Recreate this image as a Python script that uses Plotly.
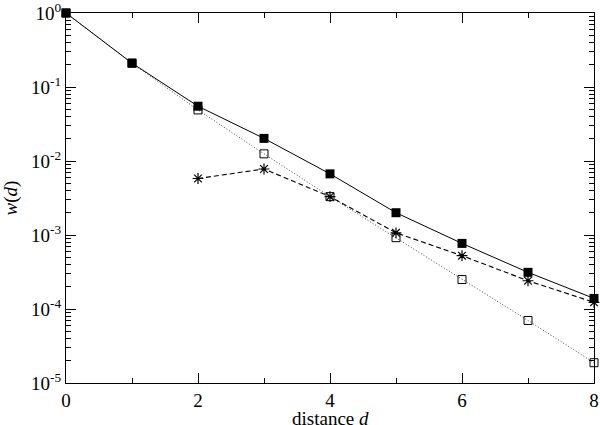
"""
w(d) versus distance d, log scale
"""
import plotly.graph_objects as go

# data
d_full = [0, 1, 2, 3, 4, 5, 6, 7, 8]
w_filled = [1.0, 0.21, 0.055, 0.0202, 0.0067, 0.0020, 7.7e-4, 3.13e-4, 1.39e-4]
w_open = [1.0, 0.21, 0.049, 0.0125, 0.0033, 9.2e-4, 2.5e-4, 7.0e-5, 1.88e-5]
d_star = [2, 3, 4, 5, 6, 7, 8]
w_star = [0.0058, 0.0078, 0.0033, 0.00107, 5.25e-4, 2.41e-4, 1.23e-4]

x_ticks = [0, 2, 4, 6, 8]
y_ticks = [1, 1e-1, 1e-2, 1e-3, 1e-4, 1e-5]
y_labels = ['10<sup>0</sup>', '10<sup>-1</sup>', '10<sup>-2</sup>',
            '10<sup>-3</sup>', '10<sup>-4</sup>', '10<sup>-5</sup>']

fig = go.Figure()

fig.add_trace(go.Scatter(
    x=d_full, y=w_open, mode='lines+markers', cliponaxis=False,
    line=dict(color='#444444', width=1, dash='1px,2px'),
    marker=dict(symbol='square-open', size=8, color='black',
                line=dict(width=1, color='black')),
))
fig.add_trace(go.Scatter(
    x=d_star, y=w_star, mode='lines+markers', cliponaxis=False,
    line=dict(color='black', width=1.1, dash='5px,3px'),
    marker=dict(symbol='asterisk-open', size=9, color='black',
                line=dict(width=1.2, color='black')),
))
fig.add_trace(go.Scatter(
    x=d_full, y=w_filled, mode='lines+markers', cliponaxis=False,
    line=dict(color='black', width=1),
    marker=dict(symbol='square', size=9, color='black'),
))

axis_font = dict(family='Liberation Serif', size=19, color='black')

fig.update_layout(
    width=600, height=425,
    margin=dict(l=66, r=6, t=13, b=42),
    paper_bgcolor='white', plot_bgcolor='white',
    showlegend=False,
    font=axis_font,
    xaxis=dict(
        range=[0, 8], tickvals=x_ticks,
        ticks='inside', ticklen=10, tickwidth=1, tickcolor='black',
        minor=dict(ticks='inside', ticklen=5, dtick=1, tickcolor='black'),
        showline=True, linecolor='black', linewidth=1, mirror='ticks',
        showgrid=False, zeroline=False, ticklabeloverflow='allow',
        automargin=False,
        tickfont=axis_font,
    ),
    yaxis=dict(
        type='log', range=[-5, 0],
        tickvals=y_ticks, ticktext=y_labels,
        ticks='inside', ticklen=10, tickwidth=1, tickcolor='black',
        minor=dict(ticks='inside', ticklen=5, dtick='D1', tickcolor='black'),
        showline=True, linecolor='black', linewidth=1, mirror='ticks',
        showgrid=False, zeroline=False, ticklabeloverflow='allow',
        automargin=False,
        title=dict(text='<i>w</i>(<i>d</i>)', font=axis_font),
        tickfont=axis_font,
    ),
)

# x-axis title as an annotation, since automargin is off
fig.add_annotation(
    text='distance <i>d</i>', xref='paper', yref='paper',
    x=0.5, y=-0.097, xanchor='center', yanchor='middle',
    showarrow=False, font=axis_font,
)

fig.write_html("out.html", config={'displayModeBar': False},
               post_script="document.body.style.margin='0';")
